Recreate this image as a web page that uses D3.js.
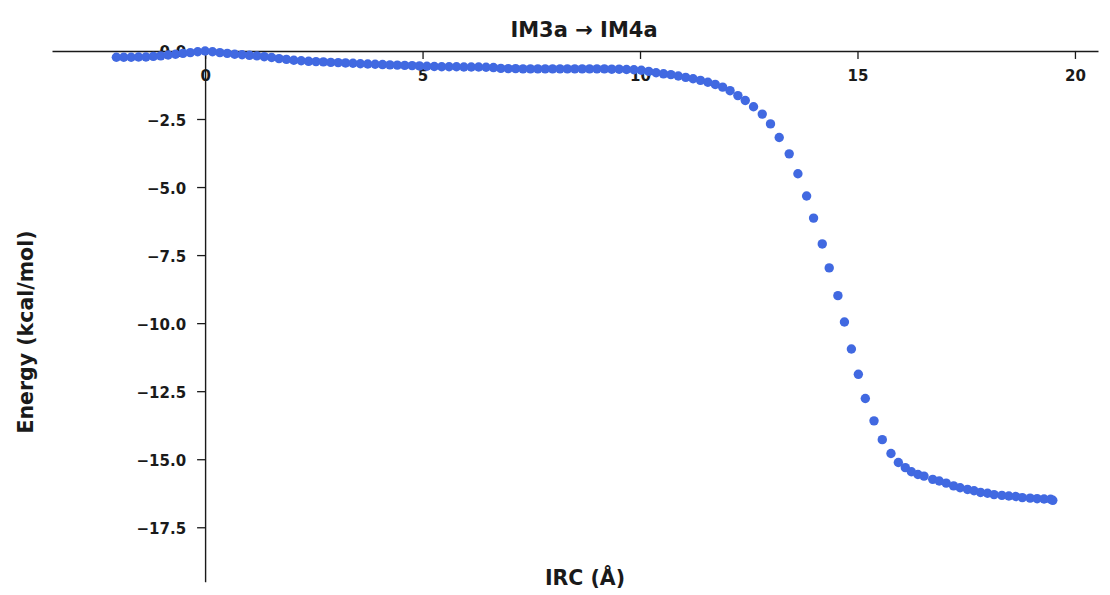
<!DOCTYPE html>
<html>
<head>
<meta charset="utf-8">
<script src="https://cdn.jsdelivr.net/npm/d3@7"></script>
<style>
  html, body { margin: 0; padding: 0; background: #fff; }
  svg text { font-family: "DejaVu Sans", sans-serif; font-weight: bold; fill: #1a1a1a; }
</style>
</head>
<body>
<svg id="chart" width="1110" height="595"></svg>
<script>
// ---- data ----
const title = "IM3a \u2192 IM4a";
const xLabel = "IRC (\u00C5)";
const yLabel = "Energy (kcal/mol)";
const xTicks = [0, 5, 10, 15, 20];
const yTicks = [0, -2.5, -5, -7.5, -10, -12.5, -15, -17.5];

const ircCoord = [
  -2.04, -1.87, -1.70, -1.53, -1.36, -1.19, -1.02, -0.85, -0.68, -0.51, -0.34, -0.17, 0.00,
  0.17, 0.34, 0.51, 0.68, 0.85, 1.02, 1.19, 1.36, 1.53, 1.70, 1.87, 2.04, 2.21, 2.38, 2.55,
  2.72, 2.89, 3.06, 3.23, 3.40, 3.57, 3.74, 3.91, 4.08, 4.25, 4.42, 4.59, 4.76, 4.93, 5.10,
  5.27, 5.44, 5.61, 5.78, 5.95, 6.12, 6.29, 6.46, 6.63, 6.80, 6.97, 7.14, 7.31, 7.48, 7.65,
  7.82, 7.99, 8.16, 8.33, 8.50, 8.67, 8.84, 9.01, 9.18, 9.35, 9.52, 9.69, 9.86, 10.03, 10.20,
  10.37, 10.54, 10.71, 10.88, 11.05, 11.22, 11.39, 11.56, 11.73, 11.90, 12.07,
  12.25, 12.42, 12.61, 12.81, 13.00, 13.20, 13.43, 13.63, 13.83, 13.99, 14.19, 14.35, 14.55,
  14.70, 14.86, 15.02, 15.18, 15.38, 15.57, 15.77, 15.94, 16.10, 16.24, 16.39, 16.53, 16.73,
  16.88, 17.04, 17.21, 17.36, 17.53, 17.68, 17.83, 17.99, 18.14, 18.32, 18.48, 18.64, 18.79,
  18.97, 19.13, 19.29, 19.44, 19.49
];
const energy = [
  -0.23, -0.23, -0.23, -0.22, -0.22, -0.20, -0.18, -0.15, -0.12, -0.09, -0.06, -0.03, 0.00,
  -0.03, -0.06, -0.09, -0.12, -0.14, -0.16, -0.18, -0.21, -0.24, -0.28, -0.31, -0.34, -0.36, -0.38, -0.39,
  -0.40, -0.42, -0.43, -0.44, -0.45, -0.47, -0.48, -0.49, -0.50, -0.51, -0.52, -0.53, -0.54, -0.55, -0.56,
  -0.57, -0.58, -0.58, -0.58, -0.59, -0.59, -0.59, -0.60, -0.61, -0.64, -0.65, -0.65, -0.66, -0.66, -0.66,
  -0.66, -0.66, -0.66, -0.66, -0.66, -0.66, -0.66, -0.66, -0.66, -0.67, -0.67, -0.68, -0.69, -0.71, -0.75,
  -0.80, -0.84, -0.87, -0.92, -0.97, -1.02, -1.08, -1.15, -1.23, -1.33, -1.46,
  -1.64, -1.82, -2.05, -2.32, -2.68, -3.18, -3.78, -4.51, -5.33, -6.14, -7.09, -7.97, -8.99,
  -9.96, -10.95, -11.88, -12.77, -13.59, -14.28, -14.79, -15.12, -15.31, -15.46, -15.56, -15.62, -15.74,
  -15.80, -15.88, -15.98, -16.05, -16.11, -16.16, -16.22, -16.25, -16.30, -16.33, -16.35, -16.37, -16.41,
  -16.43, -16.45, -16.46, -16.47, -16.51
];

// ---- layout ----
const svg = d3.select("#chart");
const x = d3.scaleLinear().domain([-3.52, 20.53]).range([52, 1098]);
const y = d3.scaleLinear().domain([0.05, -19.5]).range([49.6, 581.7]);
const fmtY = d3.format(".1f");

// x axis at y = 0
const gx = svg.append("g")
  .attr("transform", `translate(0,${y(0)})`)
  .call(d3.axisBottom(x).tickValues(xTicks).tickSize(8).tickSizeOuter(0).tickFormat(d3.format("d")));
gx.select(".domain").attr("stroke", "#1a1a1a").attr("stroke-width", 1.4);
gx.selectAll(".tick line").attr("stroke", "#1a1a1a").attr("stroke-width", 1.3);
gx.selectAll(".tick text")
  .attr("y", 30.5).attr("dy", null)
  .style("font-size", "15px");

// y axis at x = 0
const gy = svg.append("g")
  .attr("transform", `translate(${x(0)},0)`)
  .call(d3.axisLeft(y).tickValues(yTicks).tickSize(8).tickSizeOuter(0).tickFormat(fmtY));
gy.select(".domain").attr("stroke", "#1a1a1a").attr("stroke-width", 1.4);
gy.selectAll(".tick line").attr("stroke", "#1a1a1a").attr("stroke-width", 1.3);
gy.selectAll(".tick text")
  .attr("x", -19).attr("dy", "0.4em")
  .style("font-size", "15px");

// title and axis labels
svg.append("text")
  .attr("x", 584).attr("y", 37)
  .attr("text-anchor", "middle")
  .style("font-size", "21px")
  .text(title);

svg.append("text")
  .attr("x", 585).attr("y", 585)
  .attr("text-anchor", "middle")
  .style("font-size", "20.5px")
  .text(xLabel);

svg.append("text")
  .attr("transform", "translate(26,332) rotate(-90)")
  .attr("text-anchor", "middle")
  .attr("dy", "0.35em")
  .style("font-size", "20.5px")
  .text(yLabel);

// points
const pts = ircCoord.map((v, i) => ({ irc: v, e: energy[i] }));
svg.append("g")
  .selectAll("circle")
  .data(pts)
  .join("circle")
  .attr("cx", d => x(d.irc))
  .attr("cy", d => y(d.e))
  .attr("r", 4.7)
  .attr("fill", "#4169E1");
</script>
</body>
</html>
